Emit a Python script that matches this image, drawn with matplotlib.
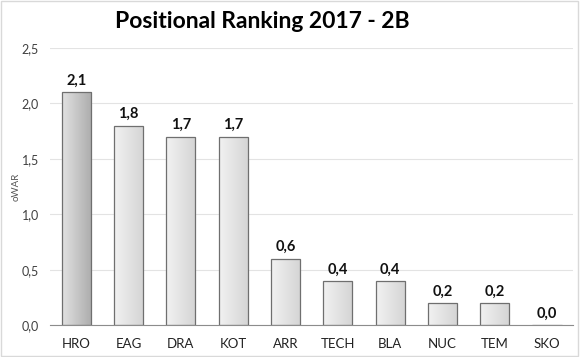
import numpy as np
import matplotlib
matplotlib.use("Agg")
import matplotlib.pyplot as plt
from matplotlib.colors import LinearSegmentedColormap
from matplotlib.patches import Rectangle

# Veriler
teams = ["HRO", "EAG", "DRA", "KOT", "ARR", "TECH", "BLA", "NUC", "TEM", "SKO"]
owar = [2.1, 1.8, 1.7, 1.7, 0.6, 0.4, 0.4, 0.2, 0.2, 0.0]
yticks = [0.0, 0.5, 1.0, 1.5, 2.0, 2.5]

plt.rcParams["font.family"] = ["Lato", "DejaVu Sans"]

fig = plt.figure(figsize=(5.8, 3.57), dpi=100)
ax = fig.add_axes([0.0862, 0.089, 0.902, 0.777])

x = np.arange(len(teams))
bars = ax.bar(x, owar, width=0.555, color="none", edgecolor="#6f6f6f", linewidth=0.9, zorder=3)

# gradyan dolgu
dark = LinearSegmentedColormap.from_list("d", ["#e2e2e2", "#acacac"])
light = LinearSegmentedColormap.from_list("l", ["#f2f2f2", "#d4d4d4"])
grad = np.linspace(0, 1, 100).reshape(1, -1)
for i, b in enumerate(bars):
    h = b.get_height()
    if h <= 0:
        continue
    x0 = b.get_x()
    w = b.get_width()
    im = ax.imshow(grad, cmap=dark if i == 0 else light, aspect="auto",
                   extent=[x0, x0 + w, 0, h], zorder=2)
    im.set_clip_path(Rectangle((x0, 0), w, h, transform=ax.transData))

for xi, v in zip(x, owar):
    ax.text(xi, v + 0.04, f"{v:.1f}".replace(".", ","), ha="center", va="bottom",
            fontsize=10.5, fontweight="bold", color="#111111")

ax.set_xlim(-0.5, len(teams) - 0.5)
ax.set_ylim(0, 2.5)
ax.set_yticks(yticks)
ax.set_yticklabels([f"{t:.1f}".replace(".", ",") for t in yticks], fontsize=9, color="#404040")
ax.set_xticks(x)
ax.set_xticklabels(teams, fontsize=9.5, color="#222222")
ax.tick_params(length=0, pad=8)
ax.tick_params(axis="x", pad=9)
ax.grid(axis="y", color="#e3e3e3", linewidth=0.8, zorder=0)
for s in ["top", "right", "left"]:
    ax.spines[s].set_visible(False)
ax.spines["bottom"].set_color("#8c8c8c")

fig.text(0.027, 0.477, "oWAR", rotation=90, fontsize=7, color="#555555", ha="center", va="center")
fig.text(0.453, 0.94, "Positional Ranking 2017 - 2B", ha="center", va="center",
         fontsize=16.5, fontweight="bold")

fig.patches.append(Rectangle((0.002, 0.003), 0.995, 0.994, transform=fig.transFigure,
                             fill=False, edgecolor="#d9d9d9", linewidth=1))

fig.savefig("out.png", dpi=100)
